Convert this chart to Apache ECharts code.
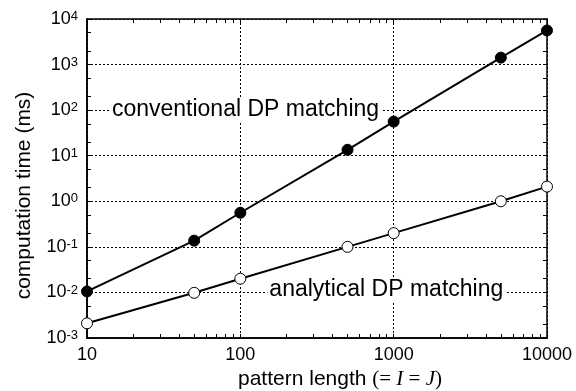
<!DOCTYPE html>
<html>
<head>
<meta charset="utf-8">
<script src="https://cdn.jsdelivr.net/npm/echarts@6/dist/echarts.min.js"></script>
<style>
  html, body { margin: 0; padding: 0; background: #fff; }
  #chart { width: 576px; height: 391px; }
</style>
</head>
<body>
<div id="chart"></div>
<script>
// data
const patternLength = [10, 50, 100, 500, 1000, 5000, 10000]
const conventionalDP = [0.0105, 0.137, 0.56, 13.5, 56, 1420, 5600]
const analyticalDP = [0.0021, 0.0098, 0.020, 0.10, 0.20, 1.0, 2.1]
const xTickValues = [10, 100, 1000, 10000]
const yTickValues = [0.001, 0.01, 0.1, 1, 10, 100, 1000, 10000]

// minor ticks: 2..9 per decade on x, 2 and 5 per decade on y
const xMinorTicks = []
;[10, 100, 1000].forEach(d => {
  for (let k = 1; k <= 9; k++) xMinorTicks.push(d * k)
})
xMinorTicks.push(10000)
const yMinorTicks = []
yTickValues.forEach(d => {
  yMinorTicks.push(d)
  if (d < 10000) yMinorTicks.push(+(d * 2).toPrecision(3), +(d * 5).toPrecision(3))
})

const FONT = '"Liberation Sans", Arial, sans-serif'
const SERIF = '"Liberation Serif", "Times New Roman", serif'

const chart = echarts.init(document.getElementById('chart'))

function tickAxis (position, values) {
  return {
    type: 'log',
    logBase: 10,
    position: position,
    axisLine: { show: true, onZero: false, lineStyle: { color: '#000', width: 1.5 } },
    axisTick: { show: true, inside: true, length: 4, customValues: values, lineStyle: { color: '#000', width: 1 } },
    axisLabel: { show: false },
    splitLine: { show: false }
  }
}

const xBase = { min: 10, max: 10000 }
const yBase = { min: 0.001, max: 10000 }
const gridLine = { show: true, lineStyle: { color: '#000', width: 1, type: [2, 2] } }

const option = {
  animation: false,
  backgroundColor: '#fff',
  grid: { left: 87, right: 29, top: 19, bottom: 53, outerBoundsMode: 'none' },
  xAxis: [
    Object.assign({
      type: 'log',
      logBase: 10,
      position: 'bottom',
      name: '{a|pattern length }{m|(= }{i|I}{m| = }{i|J}{m|)}',
      nameLocation: 'middle',
      nameGap: 26,
      nameTextStyle: {
        color: '#000',
        fontSize: 21,
        fontFamily: FONT,
        padding: [0, 0, 0, 46],
        rich: {
          a: { fontSize: 21, fontFamily: FONT, color: '#000' },
          m: { fontSize: 21, fontFamily: SERIF, color: '#000' },
          i: { fontSize: 21, fontFamily: SERIF, fontStyle: 'italic', color: '#000' }
        }
      },
      axisLine: { show: true, onZero: false, lineStyle: { color: '#000', width: 1.5 } },
      axisTick: { show: false },
      axisLabel: {
        customValues: xTickValues,
        margin: 8,
        color: '#000',
        fontSize: 18,
        fontFamily: FONT,
        formatter: v => String(Math.round(v))
      },
      splitLine: gridLine
    }, xBase),
    Object.assign(tickAxis('bottom', xMinorTicks), xBase),
    Object.assign(tickAxis('top', xMinorTicks), xBase)
  ],
  yAxis: [
    Object.assign({
      type: 'log',
      logBase: 10,
      position: 'left',
      splitNumber: 7,
      name: 'computation time (ms)',
      nameLocation: 'middle',
      nameGap: 52,
      nameTextStyle: { color: '#000', fontSize: 21, fontFamily: FONT, padding: [0, 34, 0, 0] },
      axisLine: { show: true, onZero: false, lineStyle: { color: '#000', width: 1.5 } },
      axisTick: { show: false },
      axisLabel: {
        customValues: yTickValues,
        margin: 9,
        color: '#000',
        formatter: v => '{b|10}{s|' + Math.round(Math.log10(v)) + '}',
        rich: {
          b: { fontSize: 18, fontFamily: FONT, color: '#000', lineHeight: 18, padding: [8, 0, 0, 0], verticalAlign: 'bottom' },
          s: { fontSize: 13, fontFamily: FONT, color: '#000', lineHeight: 13, verticalAlign: 'top' }
        }
      },
      splitLine: gridLine
    }, yBase),
    Object.assign(tickAxis('left', yMinorTicks), yBase),
    Object.assign(tickAxis('right', yMinorTicks), yBase)
  ],
  series: [
    {
      name: 'conventional DP matching',
      type: 'line',
      xAxisIndex: 0,
      yAxisIndex: 0,
      data: patternLength.map((x, i) => [x, conventionalDP[i]]),
      symbol: 'circle',
      symbolSize: 11,
      itemStyle: { color: '#000', borderColor: '#000', borderWidth: 1 },
      lineStyle: { color: '#000', width: 2 },
      z: 3
    },
    {
      name: 'analytical DP matching',
      type: 'line',
      xAxisIndex: 0,
      yAxisIndex: 0,
      data: patternLength.map((x, i) => [x, analyticalDP[i]]),
      symbol: 'circle',
      symbolSize: 11,
      itemStyle: { color: '#fff', borderColor: '#000', borderWidth: 1 },
      lineStyle: { color: '#000', width: 2 },
      z: 3
    }
  ]
}

chart.setOption(option)

// annotation labels anchored in data space
const p1 = chart.convertToPixel({ xAxisIndex: 0, yAxisIndex: 0 }, [14.1, 100])
const p2 = chart.convertToPixel({ xAxisIndex: 0, yAxisIndex: 0 }, [150, 0.0115])
const labelStyle = {
  fill: '#000',
  fontSize: 23,
  fontFamily: FONT,
  align: 'left',
  verticalAlign: 'middle',
  backgroundColor: '#fff',
  padding: [0, 2]
}
chart.setOption({
  graphic: [
    { type: 'text', x: p1[0], y: p1[1], z: 10, style: Object.assign({ text: 'conventional DP matching' }, labelStyle) },
    { type: 'text', x: p2[0], y: p2[1], z: 10, style: Object.assign({ text: 'analytical DP matching' }, labelStyle) }
  ]
})
</script>
</body>
</html>
